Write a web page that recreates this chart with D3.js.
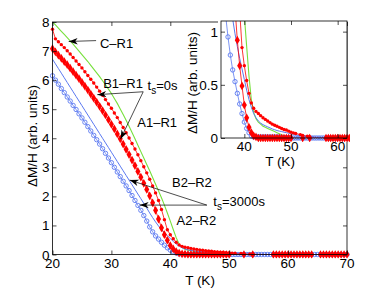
<!DOCTYPE html>
<html>
<head>
<meta charset="utf-8">
<script src="https://cdn.jsdelivr.net/npm/d3@7"></script>
<style>
  body { margin: 0; background: #fff; }
  text { font-family: "Liberation Sans", Arial, Helvetica, sans-serif; }
</style>
</head>
<body>
<div id="chart"></div>
<script>
// temperature grid (K) shared by every curve
var temps = [20,20.5,21,21.5,22,22.5,23,23.5,24,24.5,25,25.5,26,26.5,27,27.5,28,28.5,29,29.5,
  30,30.5,31,31.5,32,32.5,33,33.5,34,34.5,35,35.5,36,36.5,37,37.5,38,38.5,39,39.5,
  40,40.5,41,41.5,42,42.5,43,43.5,44,44.5,45,45.5,46,46.5,47,47.5,48,48.5,49,49.5,
  50,50.5,51,51.5,52,52.5,53,53.5,54,54.5,55,55.5,56,56.5,57,57.5,58,58.5,59,59.5,
  60,60.5,61,61.5,62,62.5,63,63.5,64,64.5,65,65.5,66,66.5,67,67.5,68,68.5,69,69.5,70];

// C-R1 (green line)
var cR1 = [8.00,7.90,7.79,7.68,7.57,7.46,7.35,7.24,7.12,7.00,
  6.88,6.76,6.64,6.51,6.38,6.25,6.12,5.98,5.84,5.69,
  5.54,5.37,5.20,5.01,4.82,4.62,4.41,4.20,3.98,3.76,
  3.54,3.32,3.10,2.88,2.65,2.42,2.19,1.95,1.70,1.43,
  1.15,0.86,0.58,0.36,0.24,0.18,0.15,0.13,0.11,0.10,
  0.09,0.08,0.07,0.06,0.05,0.04,0.03,0.02,0.015,0.01,
  0.005,0,0,0,0,0,0,0,0,0,
  0,0,0,0,0,0,0,0,0,0,
  0,0,0,0,0,0,0,0,0,0,
  0,0,0,0,0,0,0,0,0,0,0];

// B1-R1 (red, small markers), t_s = 0 s
var b1R1 = [7.75,7.42,7.32,7.22,7.12,7.01,6.90,6.78,6.66,6.54,
  6.42,6.29,6.16,6.03,5.90,5.76,5.62,5.48,5.33,5.18,
  5.03,4.87,4.71,4.54,4.37,4.19,4.01,3.82,3.63,3.43,
  3.23,3.02,2.81,2.59,2.36,2.12,1.86,1.55,1.20,0.85,
  0.68,0.54,0.42,0.33,0.28,0.25,0.23,0.21,0.19,0.175,
  0.16,0.145,0.13,0.12,0.11,0.10,0.09,0.08,0.075,0.065,
  0.055,0.048,0.042,null,0.032,0.025,null,0.016,0.01,null,
  null,null,null,null,null,0,0,0,0,0,
  0,0,0,0,0,0,0,0,0,null,
  null,0,0,0,0,0,0,0,0,0,0];

// A1-R1 (red diamonds), t_s = 0 s
var a1R1 = [7.08,6.97,6.86,6.75,6.64,6.53,6.41,6.29,6.17,6.05,
  5.92,5.79,5.66,5.52,5.38,5.24,5.10,4.95,4.80,4.64,
  4.48,4.32,4.15,3.98,3.80,3.62,3.44,3.25,3.06,2.86,
  2.66,2.45,2.24,2.02,1.78,1.52,1.22,0.92,0.68,0.49,
  0.31,0.19,0.10,0.05,0.02,0.01,0,0,0,0,
  0,0,0,0,0,0,0,0,0,0,
  0,null,null,null,null,0,null,null,0,null,
  null,null,null,null,null,0,0,0,0,0,
  0,0,0,0,0,0,0,0,0,null,
  null,0,0,0,0,0,0,0,0,0,0];

// B2-R2 (blue line), t_s = 3000 s
var b2R2 = [6.72,6.56,6.40,6.24,6.08,5.92,5.76,5.60,5.44,5.28,
  5.12,4.96,4.80,4.64,4.48,4.32,4.16,4.00,3.84,3.68,
  3.52,3.36,3.20,3.04,2.88,2.72,2.56,2.40,2.24,2.08,
  1.92,1.76,1.60,1.43,1.27,1.12,0.98,0.86,0.75,0.65,
  0.55,0.45,0.36,0.29,0.23,0.19,0.16,0.14,0.125,0.115,
  0.105,0.095,0.085,0.078,0.07,0.065,0.06,0.055,0.05,0.045,
  0.04,0.035,0.03,0.026,0.022,0.018,0.015,0.012,0.01,0.008,
  0.006,0.004,0.002,0,0,0,0,0,0,0,
  0,0,0,0,0,0,0,0,0,0,
  0,0,0,0,0,0,0,0,0,0,0];

// A2-R2 (blue open circles), t_s = 3000 s
var a2R2 = [6.15,6.00,5.86,5.71,5.57,5.42,5.28,5.13,4.99,4.84,
  4.70,4.55,4.40,4.25,4.10,3.95,3.80,3.64,3.48,3.32,
  3.16,3.00,2.84,2.68,2.52,2.36,2.20,2.03,1.86,1.69,
  1.52,1.34,1.15,0.95,0.78,0.64,0.53,0.42,0.32,0.23,
  0.15,0.09,0.05,0.02,0.01,0.01,0.01,0.01,0.01,0.01,
  0.01,0.01,0.01,0.01,0.01,0.01,0.005,0.005,0.005,0.005,
  0,0,0,0,0,0,0,0,0,0,
  0,0,0,0,0,0,0,0,0,0,
  0,0,0,0,0,0,0,0,0,0,
  0,0,0,0,0,0,0,0,0,0,0];

var xTicks = [20,30,40,50,60,70];
var yTicks = [0,1,2,3,4,5,6,7,8];
var insetXTicks = [40,50,60];
var insetYTicks = [0,0.5,1];

var RED = "#ff0000", BLUE = "#5a78f0", GREEN = "#77e03c";
var FONT = "'Liberation Sans', Arial, Helvetica, sans-serif";

var width = 382, height = 288;
var svg = d3.select("#chart").append("svg")
  .attr("width", width).attr("height", height)
  .style("font-family", FONT);

var defs = svg.append("defs");
defs.append("marker")
  .attr("id", "arrow")
  .attr("viewBox", "-10 -5 12 10")
  .attr("refX", 0).attr("refY", 0)
  .attr("markerWidth", 12).attr("markerHeight", 10)
  .attr("markerUnits", "userSpaceOnUse")
  .attr("orient", "auto")
  .append("path")
  .attr("d", "M0,0 L-9,-3.2 L-6.5,0 L-9,3.2 Z")
  .attr("fill", "black");

function rows(ys) {
  return temps.map(function(t, i) { return {t: t, v: ys[i]}; })
    .filter(function(d) { return d.v != null; });
}

// lines clipped to the box, markers allowed to spill a little below it
function makeClips(id, x, y) {
  var x0 = x.range()[0], x1 = x.range()[1], y0 = y.range()[0], y1 = y.range()[1];
  defs.append("clipPath").attr("id", id + "Line")
    .append("rect").attr("x", x0).attr("y", y1).attr("width", x1 - x0).attr("height", y0 - y1);
  defs.append("clipPath").attr("id", id + "Mark")
    .append("rect").attr("x", x0 - 3).attr("y", y1).attr("width", x1 - x0 + 6).attr("height", y0 - y1 + 4);
}

function drawSeries(parent, id, x, y) {
  makeClips(id, x, y);
  var lg = parent.append("g").attr("clip-path", "url(#" + id + "Line)");
  var mg = parent.append("g").attr("clip-path", "url(#" + id + "Mark)");
  var line = d3.line()
    .x(function(d) { return x(d.t); })
    .y(function(d) { return y(d.v); });

  lg.append("path").datum(rows(cR1))
    .attr("fill", "none").attr("stroke", GREEN).attr("stroke-width", 1.1)
    .attr("d", line);
  lg.append("path").datum(rows(b2R2))
    .attr("fill", "none").attr("stroke", BLUE).attr("stroke-width", 1)
    .attr("d", line);
  lg.append("path").datum(rows(a2R2))
    .attr("fill", "none").attr("stroke", BLUE).attr("stroke-width", 0.8)
    .attr("d", line);
  lg.append("path").datum(rows(a1R1))
    .attr("fill", "none").attr("stroke", RED).attr("stroke-width", 0.8)
    .attr("d", line);
  lg.append("path").datum(rows(b1R1))
    .attr("fill", "none").attr("stroke", RED).attr("stroke-width", 0.8)
    .attr("d", line);

  // blue A2-R2 open circles
  mg.append("g").selectAll("circle").data(rows(a2R2))
    .enter().append("circle")
    .attr("cx", function(d) { return x(d.t); })
    .attr("cy", function(d) { return y(d.v); })
    .attr("r", 2.2)
    .attr("fill", "none").attr("stroke", BLUE).attr("stroke-width", 0.9);

  // red A1-R1 diamonds
  mg.append("g").selectAll("path").data(rows(a1R1))
    .enter().append("path")
    .attr("transform", function(d) { return "translate(" + x(d.t) + "," + y(d.v) + ")"; })
    .attr("d", d3.symbol().type(d3.symbolDiamond).size(22))
    .attr("fill", RED);

  // red B1-R1 small markers
  mg.append("g").selectAll("circle").data(rows(b1R1))
    .enter().append("circle")
    .attr("cx", function(d) { return x(d.t); })
    .attr("cy", function(d) { return y(d.v); })
    .attr("r", 1.7)
    .attr("fill", RED);
}

function drawAxes(g, x, y, xt, yt) {
  var x0 = x.range()[0], x1 = x.range()[1], y0 = y.range()[0], y1 = y.range()[1];
  // inward tick marks on all four sides
  g.append("g").attr("transform", "translate(0," + y0 + ")")
    .call(d3.axisBottom(x).tickValues(xt).tickSizeInner(-4).tickSizeOuter(0).tickFormat(""))
    .classed("axis", true);
  g.append("g").attr("transform", "translate(0," + y1 + ")")
    .call(d3.axisTop(x).tickValues(xt).tickSizeInner(-4).tickSizeOuter(0).tickFormat(""))
    .classed("axis", true);
  g.append("g").attr("transform", "translate(" + x0 + ",0)")
    .call(d3.axisLeft(y).tickValues(yt).tickSizeInner(-4).tickSizeOuter(0).tickFormat(""))
    .classed("axis", true);
  g.append("g").attr("transform", "translate(" + x1 + ",0)")
    .call(d3.axisRight(y).tickValues(yt).tickSizeInner(-4).tickSizeOuter(0).tickFormat(""))
    .classed("axis", true);
  g.selectAll(".axis .domain").remove();
  g.selectAll(".axis line").attr("stroke", "black").attr("stroke-width", 0.7);

  // tick labels
  g.append("g").selectAll("text").data(xt).enter().append("text")
    .attr("x", function(d) { return x(d); })
    .attr("y", y0 + 13)
    .attr("text-anchor", "middle").attr("font-size", 13.5)
    .text(function(d) { return d; });
  g.append("g").selectAll("text").data(yt).enter().append("text")
    .attr("x", x0 - 3)
    .attr("y", function(d) { return y(d) + 5; })
    .attr("text-anchor", "end").attr("font-size", 13.5)
    .text(function(d) { return d; });

  g.append("rect")
    .attr("x", x0).attr("y", y1)
    .attr("width", x1 - x0).attr("height", y0 - y1)
    .attr("fill", "none").attr("stroke", "black").attr("stroke-width", 0.8);
}

// ---- main plot ----
var x = d3.scaleLinear().domain([20, 70]).range([52.5, 347]);
var y = d3.scaleLinear().domain([0, 8]).range([254.5, 22]);

var main = svg.append("g");
drawSeries(main, "main", x, y);
drawAxes(main, x, y, xTicks, yTicks);

main.append("text")
  .attr("x", 200).attr("y", 285)
  .attr("text-anchor", "middle").attr("font-size", 13.5)
  .text("T (K)");
main.append("text")
  .attr("transform", "translate(37,136) rotate(-90)")
  .attr("text-anchor", "middle").attr("font-size", 13.5)
  .text("\u0394M/H (arb. units)");

// annotations
function arrow(from, to) {
  main.append("line")
    .attr("x1", x(from[0])).attr("y1", y(from[1]))
    .attr("x2", x(to[0])).attr("y2", y(to[1]))
    .attr("stroke", "black").attr("stroke-width", 0.7)
    .attr("marker-end", "url(#arrow)");
}
function label(t, v, str) {
  main.append("text")
    .attr("x", x(t)).attr("y", y(v))
    .attr("font-size", 13)
    .text(str);
}
function tsLabel(t, v, str) {
  var txt = main.append("text").attr("x", x(t)).attr("y", y(v)).attr("font-size", 13);
  txt.append("tspan").text("t");
  txt.append("tspan").attr("dy", 4).attr("font-size", 10).text("s");
  txt.append("tspan").attr("dy", -4).text(str);
}

label(28.06, 7.12, "C\u2013R1");
arrow([27.4, 7.36], [22.75, 7.33]);

label(28.6, 5.73, "B1\u2013R1");
tsLabel(36.15, 5.65, "=0s");
arrow([35.4, 5.6], [27.6, 5.5]);
arrow([35.4, 5.6], [31.55, 3.97]);
label(34.4, 4.39, "A1\u2013R1");

label(40.3, 2.32, "B2\u2013R2");
tsLabel(47.3, 1.66, "=3000s");
arrow([46.2, 1.7], [33.1, 2.56]);
arrow([46.2, 1.7], [34.8, 1.7]);
label(41.05, 1.0, "A2\u2013R2");

// ---- inset ----
var ix = d3.scaleLinear().domain([35, 62]).range([221, 347]);
var iy = d3.scaleLinear().domain([0, 1.1]).range([138, 21]);

var inset = svg.append("g");
inset.append("rect")
  .attr("x", 218).attr("y", 21).attr("width", 347 - 218).attr("height", 142 - 21)
  .attr("fill", "white");
drawSeries(inset, "inset", ix, iy);
drawAxes(inset, ix, iy, insetXTicks, insetYTicks);

inset.append("text")
  .attr("x", 280).attr("y", 166)
  .attr("text-anchor", "middle").attr("font-size", 13.5)
  .text("T (K)");
inset.append("text")
  .attr("transform", "translate(197,83) rotate(-90)")
  .attr("text-anchor", "middle").attr("font-size", 13.5)
  .text("\u0394M/H (arb. units)");
</script>
</body>
</html>
